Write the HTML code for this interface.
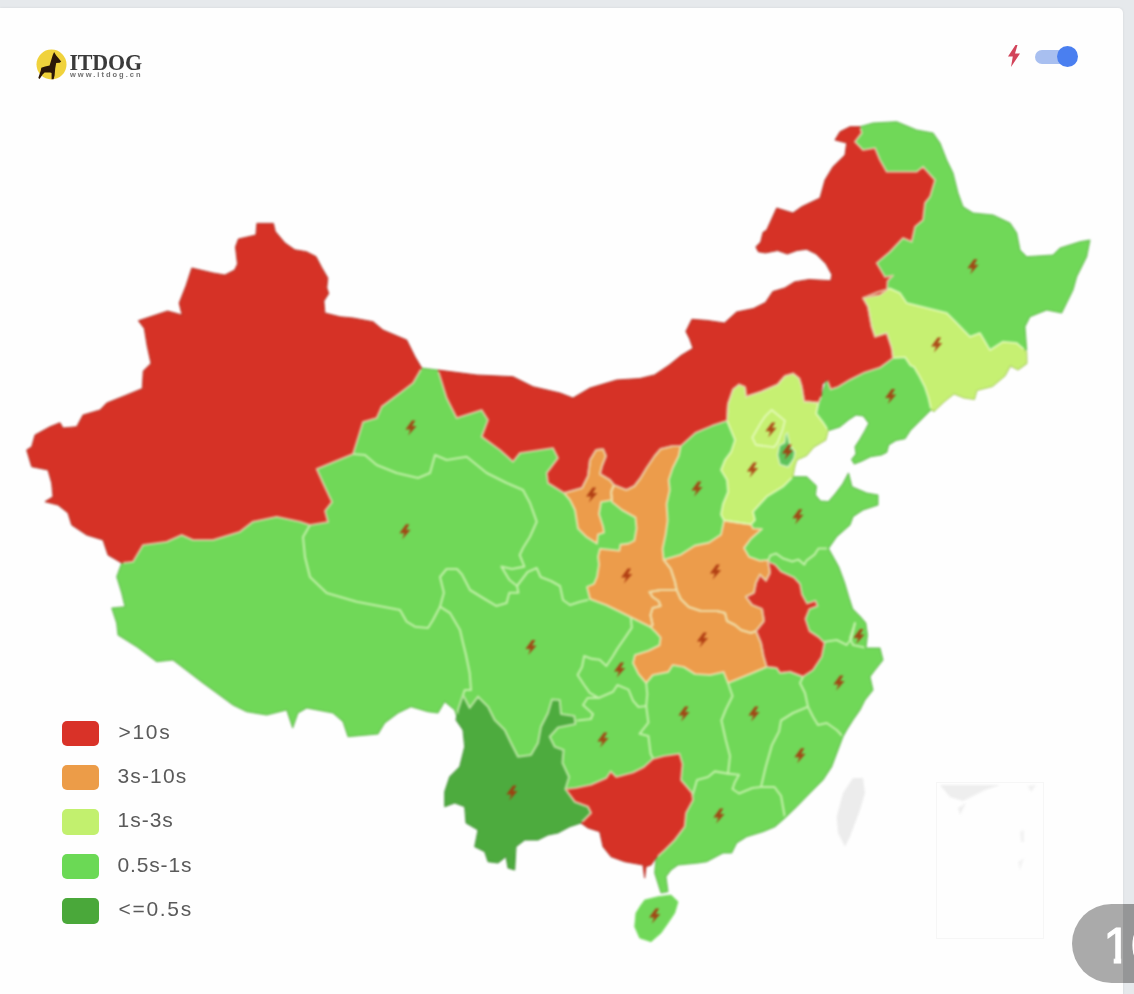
<!DOCTYPE html>
<html lang="zh"><head><meta charset="utf-8"><title>ITDOG</title>
<style>
html,body{margin:0;padding:0}
body{width:1134px;height:994px;overflow:hidden;background:#e6e9ec;position:relative;font-family:"Liberation Sans","Noto Sans CJK SC",sans-serif}
.card{position:absolute;left:0;top:8px;width:1123px;height:1000px;background:#fefefe;border-radius:0 5px 0 0;box-shadow:0 0 3px rgba(0,0,0,.08)}
.map{position:absolute;left:0;top:0;filter:blur(.8px)}
.logo{position:absolute;left:36px;top:48.7px;width:31px;height:31px;overflow:visible;filter:blur(.5px)}
.brand{position:absolute;left:69.5px;top:48px;transform:scaleY(1.09);transform-origin:0 0;font-family:"Liberation Serif",serif;font-weight:bold;font-size:22px;line-height:26px;color:#3a3a3a;letter-spacing:-.2px;filter:blur(.5px);white-space:nowrap}
.sub{position:absolute;left:70px;top:70.5px;font-size:7.5px;line-height:8px;letter-spacing:2.0px;color:#707070;font-weight:bold;filter:blur(.5px);white-space:nowrap}
.bolt{position:absolute;left:1006px;top:44px;width:16px;height:24px;filter:blur(.5px)}
.track{position:absolute;left:1035px;top:50px;width:40px;height:14px;border-radius:7px;background:#a8bff0;filter:blur(.4px)}
.knob{position:absolute;left:1057px;top:45.7px;width:21.4px;height:21.4px;border-radius:50%;background:#4a7ff0;filter:blur(.4px)}
.lg{position:absolute;left:61.5px;width:37px;height:25.5px;border-radius:5px;filter:blur(.5px)}
.lt{position:absolute;left:117.5px;font-size:21px;line-height:24px;color:#5a5a5a;letter-spacing:1px;white-space:nowrap;filter:blur(.45px)}
.badge{position:absolute;left:1071.5px;top:904px;width:200px;height:79px;border-radius:40px;background:#aaaaaa;filter:blur(.5px)}
.bshade{position:absolute;left:1123px;top:904px;width:20px;height:79px;background:rgba(90,92,96,.26)}
.btxt{position:absolute;left:1103.2px;top:917px;font-size:50px;line-height:58px;color:#fff;white-space:nowrap;-webkit-text-stroke:1px #fff;clip-path:polygon(0 0,200px 0,200px 80px,27.2px 80px,27.2px 39.5px,18px 39.5px,18px 80px,10.5px 80px,10.5px 39.5px,0 39.5px)}
.bwrap{position:absolute;left:0;top:0;width:1134px;height:994px;filter:blur(.6px)}
.inset{position:absolute;left:936px;top:782px;width:108px;height:157px;border:1px solid #f6f6f6;box-sizing:border-box}
</style></head><body>
<div class="card"></div>
<svg class="map" width="1134" height="994" viewBox="0 0 1134 994">
<g>
<polygon points="853.0,778.0 863.0,778.0 865.0,793.0 860.0,810.0 850.0,836.7 845.0,846.7 838.0,833.0 836.7,816.7 843.0,793.0" fill="#ececec"/>
<polygon points="421.7,368.0 438.0,370.0 470.0,395.0 520.0,420.0 600.0,420.0 700.0,405.0 760.0,440.0 790.0,470.0 793.0,476.7 806.7,476.7 816.5,486.0 815.5,495.0 820.5,501.0 828.5,501.5 835.0,494.0 842.6,484.0 848.5,473.0 852.0,486.7 866.7,493.0 878.0,495.0 878.0,505.0 863.0,510.0 853.0,516.7 850.0,525.0 836.7,536.7 828.5,548.5 838.6,566.6 844.6,582.7 848.7,596.8 852.7,608.9 860.7,617.0 865.8,623.0 867.5,635.0 866.0,648.0 880.0,648.0 883.0,660.0 875.0,670.0 870.0,676.7 873.0,690.0 865.0,700.0 860.0,710.0 853.0,720.0 846.7,730.0 843.0,736.7 838.0,750.0 831.7,766.7 823.0,780.0 810.0,793.0 796.7,806.7 785.0,818.0 775.0,826.7 763.0,831.7 746.7,836.7 736.7,843.0 731.7,853.0 723.0,853.0 706.7,861.7 698.0,863.0 678.0,865.0 671.0,870.0 666.0,876.7 668.0,891.7 661.0,893.0 654.7,873.0 656.0,858.0 640.0,830.0 610.0,810.0 540.0,800.0 480.0,760.0 458.0,720.0 454.7,710.0 444.7,701.7 438.0,713.0 428.0,711.7 411.0,706.7 398.0,713.0 384.7,723.0 378.0,734.0 348.0,736.7 343.0,721.7 333.0,713.0 306.7,708.0 298.0,713.0 292.7,728.0 286.7,710.0 266.7,715.0 246.7,711.7 233.0,705.0 216.7,693.0 203.0,683.0 190.0,673.0 173.0,660.0 156.7,661.7 136.7,646.7 118.0,635.0 116.7,623.0 111.7,608.0 125.0,606.7 121.7,593.0 116.7,576.7 121.7,563.0 140.0,540.0 240.0,510.0 300.0,500.0 320.0,460.0 360.0,420.0 400.0,390.0" fill="#70d858" stroke="#70d858" stroke-width="0.8" stroke-linejoin="round"/>
<polygon points="860.0,126.7 873.0,123.0 896.7,121.7 916.7,130.0 933.0,133.0 940.0,143.0 946.7,160.0 953.0,173.0 958.0,193.0 963.0,206.7 973.0,213.0 993.0,215.0 1010.0,223.0 1016.7,233.0 1020.0,250.0 1026.7,256.7 1053.0,255.0 1060.0,248.0 1080.0,241.7 1090.0,240.0 1086.7,256.7 1076.7,276.7 1073.0,290.0 1061.7,313.0 1046.7,310.0 1030.0,316.7 1025.0,326.7 1026.7,350.0 980.0,360.0 950.0,380.0 934.0,411.5 931.2,409.7 924.9,416.0 917.6,423.3 910.4,430.5 905.0,438.7 895.9,440.5 888.7,445.0 886.8,452.3 881.4,455.0 870.5,456.8 861.5,461.3 854.3,464.0 851.5,459.5 856.0,454.0 855.0,446.8 859.7,439.6 865.0,430.5 868.7,423.3 863.3,416.0 856.0,415.0 848.8,419.7 839.8,427.0 828.9,430.5 815.0,415.0 830.0,370.0 860.0,340.0 850.0,250.0 890.0,200.0 865.0,165.0 850.0,140.0" fill="#70d858" stroke="#70d858" stroke-width="0.8" stroke-linejoin="round"/>
<polygon points="644.7,900.0 658.0,896.7 671.0,895.0 678.0,901.7 674.7,913.0 668.0,923.0 661.0,933.0 651.0,941.7 639.7,938.0 634.7,926.7 636.0,913.0 641.0,905.0" fill="#70d858" stroke="#70d858" stroke-width="0.8" stroke-linejoin="round"/>
<polygon points="458.0,710.0 463.0,695.0 469.7,708.0 478.0,696.7 488.0,706.7 494.7,720.0 504.7,730.0 511.0,743.0 518.0,756.7 531.0,755.0 538.0,743.0 541.0,726.7 548.0,713.0 552.0,699.5 559.7,700.0 561.0,714.0 574.3,716.0 575.4,724.0 558.0,727.5 549.7,736.7 554.7,746.7 563.5,750.0 562.5,763.0 569.0,777.0 565.4,789.0 574.7,801.7 588.0,806.7 591.0,813.0 581.0,823.0 569.7,826.7 558.0,833.0 548.0,835.0 538.0,840.0 524.7,840.0 516.0,846.7 514.7,870.0 508.0,868.0 506.0,856.7 498.0,863.0 488.0,861.7 484.7,851.7 474.7,846.7 478.0,830.0 466.0,823.0 464.7,806.7 454.7,803.0 444.7,806.7 444.7,791.7 449.7,776.7 459.7,766.7 464.7,746.7 463.0,730.0 456.0,720.0" fill="#4dab3e" stroke="#4dab3e" stroke-width="0.8" stroke-linejoin="round"/>
<polygon points="565.4,789.0 575.4,788.0 590.9,784.7 606.4,778.0 610.8,771.4 616.3,777.0 633.0,772.5 644.0,767.0 652.8,759.0 663.9,756.0 679.4,753.7 682.5,764.0 681.0,780.0 687.0,787.0 692.0,793.0 693.0,800.0 686.0,813.0 684.7,826.7 674.7,840.0 664.7,850.0 656.0,858.0 651.0,865.0 646.0,866.7 644.7,878.0 643.0,865.0 624.7,861.7 611.0,856.7 603.0,846.7 599.7,831.7 588.0,828.0 581.0,823.0 591.0,813.0 588.0,806.7 574.7,801.7" fill="#d63226" stroke="#d63226" stroke-width="0.8" stroke-linejoin="round"/>
<polygon points="676.7,590.0 680.7,599.0 688.8,607.0 700.8,611.0 716.9,611.0 725.0,613.0 727.0,621.0 735.0,625.0 741.0,630.0 751.0,633.0 756.0,631.0 761.0,643.0 763.5,656.0 766.7,667.0 752.4,673.0 739.0,678.5 728.0,683.0 723.6,671.9 710.0,675.0 694.9,674.0 683.8,667.0 672.7,665.0 668.3,671.9 652.8,675.0 646.2,683.0 638.5,674.0 633.0,663.0 635.0,655.0 648.4,650.8 659.5,645.3 660.6,637.6 656.6,633.0 650.5,627.0 652.6,625.0 650.5,615.0 652.6,608.0 660.6,606.0 658.6,601.0 652.6,597.0 649.5,592.0 660.6,590.0" fill="#ec9c4b" stroke="#ec9c4b" stroke-width="0.8" stroke-linejoin="round"/>
<polygon points="663.6,559.7 680.7,554.7 694.8,545.6 708.9,542.6 721.0,534.6 724.0,520.5 737.0,522.5 751.0,524.5 753.0,528.5 762.0,529.0 751.0,538.6 744.0,548.0 749.0,556.7 760.0,560.7 768.0,560.0 770.0,572.7 766.0,580.7 760.0,574.7 756.0,582.7 754.0,592.8 746.0,596.8 752.0,604.9 762.0,608.9 764.0,621.0 756.0,631.0 751.0,633.0 741.0,630.0 735.0,625.0 727.0,621.0 725.0,613.0 716.9,611.0 700.8,611.0 688.8,607.0 680.7,599.0 676.7,590.0 674.7,580.8 670.7,568.8" fill="#ec9c4b" stroke="#ec9c4b" stroke-width="0.8" stroke-linejoin="round"/>
<polygon points="614.0,485.0 626.4,490.0 634.4,486.0 640.5,478.0 646.5,468.0 654.6,456.0 660.6,449.0 672.7,446.0 680.7,446.0 678.7,456.0 672.7,468.0 668.7,480.0 669.7,490.0 666.6,504.0 667.6,520.5 665.6,534.6 662.6,548.7 663.6,559.7 670.7,568.8 674.7,580.8 676.7,590.0 660.6,590.0 649.5,592.0 652.6,597.0 658.6,601.0 660.6,606.0 652.6,608.0 650.5,615.0 652.6,625.0 650.5,627.0 640.5,622.0 630.4,617.0 618.4,611.0 606.0,605.0 590.0,599.0 587.0,586.9 594.0,583.9 597.0,576.8 599.0,564.7 598.0,556.7 600.0,548.7 610.0,549.7 619.4,550.7 620.4,544.6 628.4,543.6 634.4,540.6 636.5,528.5 635.5,517.5 622.0,510.0 612.0,502.0 612.0,500.0 611.0,492.0" fill="#ec9c4b" stroke="#ec9c4b" stroke-width="0.8" stroke-linejoin="round"/>
<polygon points="564.0,493.0 582.0,488.0 588.0,476.0 590.0,460.0 596.0,450.0 603.0,449.0 606.0,456.0 602.0,466.0 600.0,474.0 610.0,480.0 614.0,485.0 611.0,492.0 612.0,500.0 601.0,502.0 599.0,514.0 603.0,526.5 604.0,532.6 598.0,534.6 597.0,543.6 586.0,536.6 578.0,528.5 575.0,510.0 570.0,500.0" fill="#ec9c4b" stroke="#ec9c4b" stroke-width="0.8" stroke-linejoin="round"/>
<polygon points="768.0,561.6 775.0,564.6 781.0,571.5 794.0,577.5 800.0,584.0 802.0,594.5 807.0,603.5 815.5,600.8 817.5,605.9 809.4,608.9 805.4,619.0 809.4,631.0 818.5,637.0 824.5,643.0 821.7,656.7 813.0,670.0 803.0,676.7 790.0,671.7 780.0,673.0 776.7,668.0 766.7,666.7 763.5,656.0 761.0,643.0 756.0,631.0 764.0,621.0 762.0,608.9 752.0,604.9 746.0,596.8 754.0,592.8 756.0,582.7 760.0,574.7 766.0,580.7 770.0,572.7" fill="#d63226" stroke="#d63226" stroke-width="0.8" stroke-linejoin="round"/>
<polygon points="726.9,420.7 728.0,403.8 733.0,389.3 739.0,384.5 745.0,386.9 746.2,396.6 760.7,391.8 777.6,384.5 784.9,376.0 793.3,373.6 799.3,378.5 801.8,386.9 804.2,401.4 818.6,402.6 816.2,413.5 823.5,423.0 828.3,430.4 825.9,440.0 813.8,447.3 806.6,455.7 797.0,460.0 795.0,466.0 793.0,476.7 783.0,486.7 766.7,496.7 753.0,511.7 755.0,520.0 751.0,524.5 737.0,522.5 724.0,520.5 721.0,514.5 723.0,504.0 728.0,492.0 727.0,480.0 721.0,470.0 725.0,460.0 731.0,452.0 735.0,440.0" fill="#c6f072" stroke="#c6f072" stroke-width="0.8" stroke-linejoin="round"/>
<polygon points="863.0,298.0 878.0,292.0 890.0,288.5 900.0,293.0 906.7,303.0 926.7,308.0 946.7,313.0 956.7,323.0 970.0,336.7 980.0,333.0 990.0,350.0 1003.0,341.7 1016.7,343.0 1026.7,351.7 1027.0,363.5 1018.0,370.0 1010.5,366.0 1005.0,376.0 992.5,386.5 977.0,390.5 974.5,399.5 964.0,398.0 954.0,394.0 944.0,402.0 934.0,411.5 931.2,409.7 928.5,398.0 924.9,387.0 919.4,376.2 914.0,367.0 910.4,365.4 905.0,357.2 893.0,358.0 891.7,348.0 886.7,333.0 875.0,336.7 871.7,326.7 868.0,306.7" fill="#c6f072" stroke="#c6f072" stroke-width="0.8" stroke-linejoin="round"/>
<polygon points="256.9,223.4 273.4,223.4 275.3,231.4 285.0,243.0 294.8,249.8 306.4,251.7 316.0,256.6 322.0,268.0 327.8,278.0 326.8,287.7 328.7,293.5 323.9,301.0 324.9,313.0 340.0,316.8 353.0,318.0 373.0,321.7 383.0,330.0 406.7,340.0 415.0,356.7 421.7,368.0 413.0,383.0 400.0,393.0 381.7,406.7 376.7,418.0 363.0,422.0 353.0,454.0 316.7,469.0 323.0,483.0 332.0,502.0 325.0,511.0 328.0,522.0 310.0,525.0 300.0,521.7 276.7,516.7 253.0,521.7 240.0,531.7 213.0,540.0 193.0,540.0 181.7,535.0 166.7,541.7 143.0,545.0 133.0,561.7 121.7,563.0 108.0,555.0 103.0,540.0 86.7,535.0 71.7,525.0 68.0,513.0 58.0,505.0 45.0,501.7 53.0,496.7 51.7,483.0 48.0,470.0 31.7,466.7 26.7,450.0 31.7,446.7 35.0,435.0 50.0,426.7 60.0,422.7 63.0,428.0 76.7,426.7 83.0,415.0 100.0,410.0 106.7,403.0 126.7,395.0 142.3,388.6 143.3,371.0 151.0,363.4 147.2,345.9 144.3,328.4 138.4,320.7 167.6,311.0 182.0,314.9 179.2,303.0 186.0,285.7 191.8,268.0 213.2,273.0 224.9,275.0 234.6,270.0 237.5,264.0 235.5,246.9 238.4,239.0 255.9,235.0" fill="#d63226" stroke="#d63226" stroke-width="0.8" stroke-linejoin="round"/>
<polygon points="438.0,370.0 476.7,375.0 513.0,376.7 533.0,386.7 560.0,393.0 573.0,398.0 590.0,388.0 616.7,380.0 640.0,378.5 654.5,374.9 669.0,365.2 681.0,355.5 693.0,348.3 689.5,338.6 685.9,331.4 691.9,319.3 707.6,320.5 724.5,323.0 736.6,312.0 753.5,308.5 765.5,302.4 772.8,291.6 784.9,287.9 794.5,281.9 809.0,279.5 830.7,280.7 831.9,274.7 825.9,263.8 816.2,254.0 806.6,249.3 796.9,250.5 787.3,254.0 777.6,250.5 765.5,252.9 758.3,251.7 755.9,246.9 760.7,242.0 763.0,232.4 766.7,230.0 776.7,208.0 793.0,213.0 801.7,206.7 820.0,198.0 825.0,180.0 833.0,166.7 845.0,155.0 846.7,143.0 835.0,140.0 840.0,131.7 850.0,126.7 860.0,126.7 861.7,133.0 855.0,141.7 863.0,150.0 875.0,148.0 880.0,160.0 886.7,171.7 916.7,171.7 923.0,166.7 935.0,180.0 930.0,196.7 925.0,203.0 923.0,220.0 915.0,226.7 911.7,241.7 903.0,238.0 890.0,251.7 876.7,263.0 885.0,277.0 893.0,275.5 887.5,281.0 887.0,290.0 880.0,295.0 863.0,298.0 868.0,306.7 871.7,326.7 875.0,336.7 886.7,333.0 891.7,348.0 893.0,358.0 880.0,367.6 864.5,372.4 850.0,379.7 838.0,386.9 830.7,389.3 827.0,379.7 822.3,384.5 821.1,396.6 818.6,402.6 804.2,401.4 801.8,386.9 799.3,378.5 793.3,373.6 784.9,376.0 777.6,384.5 760.7,391.8 746.2,396.6 745.0,386.9 739.0,384.5 733.0,389.3 728.0,403.8 726.9,420.7 712.4,425.6 695.5,432.8 684.7,442.5 680.7,446.0 672.7,446.0 660.6,449.0 654.6,456.0 646.5,468.0 640.5,478.0 634.4,486.0 626.4,490.0 614.0,485.0 610.0,480.0 600.0,474.0 602.0,466.0 606.0,456.0 603.0,449.0 596.0,450.0 590.0,460.0 588.0,476.0 582.0,488.0 564.0,493.0 548.0,483.0 546.7,473.0 558.0,458.0 553.0,448.0 520.0,453.0 513.0,461.7 500.0,450.0 481.7,436.7 488.0,420.0 481.7,410.0 456.7,418.0 446.7,398.0" fill="#d63226" stroke="#d63226" stroke-width="0.8" stroke-linejoin="round"/>
<polygon points="771.6,409.9 784.9,420.7 782.4,430.4 777.6,442.5 774.0,447.3 755.9,444.9 752.3,437.6 760.7,423.0 765.5,415.9" fill="#c6f072" stroke="#c6f072" stroke-width="0.8" stroke-linejoin="round"/>
<polygon points="787.3,433.0 789.7,444.9 795.0,452.0 794.0,458.0 791.0,463.0 788.0,467.0 780.0,464.5 777.6,455.0 779.5,445.5 784.9,442.5 785.5,435.0" fill="#5cc25a" stroke="#5cc25a" stroke-width="0.8" stroke-linejoin="round"/>
<clipPath id="cin"><path clip-rule="evenodd" d="M644.6 865.7 L650.1 863.7 L656.3 854.9 L657.7 855.4 L656.2 872.8 L662.0 891.3 L666.3 890.5 L664.4 876.3 L669.9 868.9 L677.5 863.5 L697.8 861.5 L706.2 860.3 L722.6 851.5 L730.8 851.5 L735.5 842.0 L746.1 835.3 L762.5 830.3 L774.2 825.4 L784.0 816.9 L795.6 805.6 L821.8 779.1 L830.4 766.0 L841.6 736.1 L845.4 729.2 L851.8 719.2 L858.7 709.2 L863.7 699.2 L871.4 689.6 L868.4 676.3 L881.4 659.7 L878.8 649.5 L864.3 649.5 L866.0 635.0 L864.4 623.6 L859.6 618.0 L851.4 609.7 L843.2 583.2 L837.2 567.2 L826.7 548.4 L835.6 535.7 L848.7 524.1 L851.8 515.7 L862.3 508.6 L876.5 503.9 L876.5 496.3 L866.3 494.4 L850.7 487.8 L848.0 477.1 L843.9 484.8 L836.2 494.9 L829.1 503.0 L819.8 502.5 L813.9 495.5 L814.9 486.6 L806.1 478.2 L791.2 478.2 L793.5 465.6 L795.8 458.9 L805.7 454.5 L812.8 446.1 L824.6 439.0 L827.6 427.1 L829.4 428.8 L839.1 425.7 L847.9 418.5 L855.6 413.4 L864.1 414.6 L870.5 423.2 L861.0 440.4 L856.6 447.1 L857.6 454.4 L853.3 459.6 L854.9 462.2 L860.9 459.9 L870.0 455.4 L880.9 453.6 L885.5 451.3 L887.4 444.0 L895.3 439.1 L904.1 437.4 L909.2 429.5 L931.0 407.8 L933.8 409.6 L943.0 400.9 L953.7 392.3 L964.4 396.5 L973.4 397.8 L975.8 389.3 L991.8 385.1 L1003.8 375.0 L1009.9 364.0 L1017.9 368.2 L1025.5 362.7 L1025.2 352.4 L1022.2 349.8 L1022.3 349.4 L1025.1 348.8 L1023.5 326.4 L1028.9 315.5 L1046.6 308.4 L1060.9 311.3 L1071.6 289.5 L1075.3 276.2 L1085.3 256.2 L1088.1 241.8 L1080.4 243.2 L1060.8 249.3 L1053.7 256.5 L1026.1 258.2 L1018.6 250.7 L1015.3 233.6 L1009.0 224.2 L992.6 216.5 L972.5 214.5 L961.8 207.7 L956.6 193.4 L951.6 173.5 L945.3 160.6 L938.7 143.7 L932.1 134.4 L916.3 131.4 L896.4 123.2 L873.2 124.5 L860.2 128.2 L850.4 128.2 L841.1 132.8 L837.3 139.0 L848.4 141.9 L846.4 155.7 L834.2 167.6 L826.4 180.6 L821.3 199.1 L802.5 208.0 L793.3 214.7 L777.5 209.8 L767.9 231.0 L764.3 233.3 L762.1 242.8 L757.7 247.2 L759.3 250.3 L765.5 251.4 L777.7 248.9 L787.3 252.4 L796.5 249.0 L806.9 247.8 L817.1 252.8 L827.1 262.9 L833.5 274.5 L831.9 282.3 L809.1 281.0 L795.0 283.3 L785.5 289.3 L773.7 292.9 L766.5 303.6 L754.0 309.9 L737.3 313.4 L725.0 324.6 L707.4 322.0 L692.8 320.9 L687.6 331.4 L690.9 338.0 L694.8 349.0 L681.9 356.7 L669.9 366.4 L655.1 376.3 L640.2 380.0 L617.0 381.5 L590.6 389.4 L573.1 399.7 L559.6 394.4 L532.5 388.1 L512.6 378.2 L476.6 376.5 L420.8 369.4 L413.7 357.4 L405.6 341.2 L382.2 331.3 L372.3 323.1 L352.8 319.5 L339.7 318.3 L323.5 314.2 L322.4 300.6 L327.1 293.3 L325.3 287.9 L326.3 278.3 L314.9 257.7 L305.9 253.1 L294.2 251.2 L284.0 244.1 L273.9 232.1 L272.2 224.9 L258.3 224.9 L257.3 236.2 L239.5 240.3 L237.0 247.1 L239.0 264.3 L235.7 271.1 L225.1 276.6 L212.9 274.5 L192.8 269.8 L187.4 286.2 L180.8 303.1 L184.0 317.0 L167.6 312.6 L140.9 321.5 L145.7 327.8 L148.7 345.6 L152.6 363.9 L144.8 371.7 L143.7 389.6 L107.6 404.3 L100.8 411.3 L84.0 416.3 L77.6 428.1 L62.2 429.6 L59.3 424.6 L50.6 428.1 L36.3 436.0 L33.0 447.6 L28.5 450.6 L32.9 465.4 L49.2 468.7 L53.2 482.7 L54.6 497.5 L48.8 501.1 L58.7 503.6 L69.3 512.1 L73.0 524.0 L87.3 533.6 L104.2 538.8 L109.2 554.0 L123.5 562.3 L118.3 576.7 L123.1 592.6 L126.9 608.0 L113.7 609.3 L118.2 622.7 L119.4 634.1 L137.5 645.5 L157.1 660.1 L173.4 658.4 L203.9 681.8 L233.8 703.7 L247.2 710.3 L266.6 713.5 L287.7 708.2 L292.7 723.4 L296.8 712.0 L306.4 706.4 L333.7 711.6 L344.3 720.8 L349.0 735.1 L377.1 732.6 L383.6 722.0 L397.2 711.7 L410.9 705.1 L428.3 710.2 L437.2 711.4 L444.3 699.4 L456.0 709.1 L458.3 716.1 L457.6 719.7 L464.5 729.5 L466.2 746.8 L461.1 767.5 L451.0 777.5 L446.2 791.9 L446.2 804.5 L454.7 801.4 L466.1 805.6 L467.4 822.1 L479.7 829.2 L476.4 845.9 L485.9 850.6 L489.1 860.3 L497.6 861.4 L507.0 854.0 L509.3 866.8 L513.3 868.0 L514.5 845.9 L524.2 838.5 L537.6 838.5 L547.5 833.6 L557.5 831.6 L569.1 825.3 L581.3 821.3 L588.7 826.6 L601.0 830.5 L604.4 846.0 L611.9 855.4 L625.1 860.2 L644.3 863.7 L644.6 865.7 Z M822.6 397.0 L819.6 396.3 L820.9 383.8 L827.5 377.1 L828.9 377.9 L822.6 397.0 Z"/></clipPath>
<path d="M644.7 878.0 L646.0 866.7 L651.0 865.0 L656.0 858.0 L654.7 873.0 L661.0 893.0 L668.0 891.7 L666.0 876.7 L671.0 870.0 L678.0 865.0 L698.0 863.0 L706.7 861.7 L723.0 853.0 L731.7 853.0 L736.7 843.0 L746.7 836.7 L763.0 831.7 L775.0 826.7 L785.0 818.0 L796.7 806.7 L823.0 780.0 L831.7 766.7 L843.0 736.7 L846.7 730.0 L853.0 720.0 L860.0 710.0 L865.0 700.0 L873.0 690.0 L870.0 676.7 L883.0 660.0 L880.0 648.0 L866.0 648.0 L867.5 635.0 L865.8 623.0 L860.7 617.0 L852.7 608.9 L844.6 582.7 L838.6 566.6 L828.5 548.5 L836.7 536.7 L850.0 525.0 L853.0 516.7 L863.0 510.0 L878.0 505.0 L878.0 495.0 L866.7 493.0 L852.0 486.7 L848.5 473.0 L842.6 484.0 L835.0 494.0 L828.5 501.5 L820.5 501.0 L815.5 495.0 L816.5 486.0 L806.7 476.7 L793.0 476.7 L795.0 466.0 L797.0 460.0 L806.6 455.7 L813.8 447.3 L825.9 440.0 L828.4 430.0 L828.9 430.5 L839.8 427.0 L848.8 419.7 L856.0 415.0 L863.3 416.0 L868.7 423.3 L859.7 439.6 L855.0 446.8 L856.0 454.0 L851.5 459.5 L854.3 464.0 L861.5 461.3 L870.5 456.8 L881.4 455.0 L886.8 452.3 L888.7 445.0 L895.9 440.5 L905.0 438.7 L910.4 430.5 L931.2 409.7 L934.0 411.5 L944.0 402.0 L954.0 394.0 L964.0 398.0 L974.5 399.5 L977.0 390.5 L992.5 386.5 L1005.0 376.0 L1010.5 366.0 L1018.0 370.0 L1027.0 363.5 L1026.7 351.7 L1025.1 350.3 L1026.7 350.0 L1025.0 326.7 L1030.0 316.7 L1046.7 310.0 L1061.7 313.0 L1073.0 290.0 L1076.7 276.7 L1086.7 256.7 L1090.0 240.0 L1080.0 241.7 L1060.0 248.0 L1053.0 255.0 L1026.7 256.7 L1020.0 250.0 L1016.7 233.0 L1010.0 223.0 L993.0 215.0 L973.0 213.0 L963.0 206.7 L958.0 193.0 L953.0 173.0 L946.7 160.0 L940.0 143.0 L933.0 133.0 L916.7 130.0 L896.7 121.7 L873.0 123.0 L860.0 126.7 L850.0 126.7 L840.0 131.7 L835.0 140.0 L846.7 143.0 L845.0 155.0 L833.0 166.7 L825.0 180.0 L820.0 198.0 L801.7 206.7 L793.0 213.0 L776.7 208.0 L766.7 230.0 L763.0 232.4 L760.7 242.0 L755.9 246.9 L758.3 251.7 L765.5 252.9 L777.6 250.5 L787.3 254.0 L796.9 250.5 L806.6 249.3 L816.2 254.0 L825.9 263.8 L831.9 274.7 L830.7 280.7 L809.0 279.5 L794.5 281.9 L784.9 287.9 L772.8 291.6 L765.5 302.4 L753.5 308.5 L736.6 312.0 L724.5 323.0 L707.6 320.5 L691.9 319.3 L685.9 331.4 L689.5 338.6 L693.0 348.3 L681.0 355.5 L669.0 365.2 L654.5 374.9 L640.0 378.5 L616.7 380.0 L590.0 388.0 L573.0 398.0 L560.0 393.0 L533.0 386.7 L513.0 376.7 L476.7 375.0 L421.7 368.0 L415.0 356.7 L406.7 340.0 L383.0 330.0 L373.0 321.7 L353.0 318.0 L340.0 316.8 L324.9 313.0 L323.9 301.0 L328.7 293.5 L326.8 287.7 L327.8 278.0 L322.0 268.0 L316.0 256.6 L306.4 251.7 L294.8 249.8 L285.0 243.0 L275.3 231.4 L273.4 223.4 L256.9 223.4 L255.9 235.0 L238.4 239.0 L235.5 246.9 L237.5 264.0 L234.6 270.0 L224.9 275.0 L213.2 273.0 L191.8 268.0 L186.0 285.7 L179.2 303.0 L182.0 314.9 L167.6 311.0 L138.4 320.7 L144.3 328.4 L147.2 345.9 L151.0 363.4 L143.3 371.0 L142.3 388.6 L106.7 403.0 L100.0 410.0 L83.0 415.0 L76.7 426.7 L63.0 428.0 L60.0 422.7 L50.0 426.7 L35.0 435.0 L31.7 446.7 L26.7 450.0 L31.7 466.7 L48.0 470.0 L51.7 483.0 L53.0 496.7 L45.0 501.7 L58.0 505.0 L68.0 513.0 L71.7 525.0 L86.7 535.0 L103.0 540.0 L108.0 555.0 L121.7 563.0 L116.7 576.7 L121.7 593.0 L125.0 606.7 L111.7 608.0 L116.7 623.0 L118.0 635.0 L136.7 646.7 L156.7 661.7 L173.0 660.0 L203.0 683.0 L233.0 705.0 L246.7 711.7 L266.7 715.0 L286.7 710.0 L292.7 728.0 L298.0 713.0 L306.7 708.0 L333.0 713.0 L343.0 721.7 L348.0 736.7 L378.0 734.0 L384.7 723.0 L398.0 713.0 L411.0 706.7 L428.0 711.7 L438.0 713.0 L444.7 701.7 L454.7 710.0 L456.8 716.2 L456.0 720.0 L463.0 730.0 L464.7 746.7 L459.7 766.7 L449.7 776.7 L444.7 791.7 L444.7 806.7 L454.7 803.0 L464.7 806.7 L466.0 823.0 L478.0 830.0 L474.7 846.7 L484.7 851.7 L488.0 861.7 L498.0 863.0 L506.0 856.7 L508.0 868.0 L514.7 870.0 L516.0 846.7 L524.7 840.0 L538.0 840.0 L548.0 835.0 L558.0 833.0 L569.7 826.7 L581.0 823.0 L588.0 828.0 L599.7 831.7 L603.0 846.7 L611.0 856.7 L624.7 861.7 L643.0 865.0 L644.7 878.0 Z M821.6 395.2 L821.2 395.1 L822.3 384.5 L826.6 380.1 L821.6 395.2 Z" fill="none" stroke="#000" stroke-opacity="0.10" stroke-width="1.6" stroke-linejoin="round"/>
<g clip-path="url(#cin)">
<g opacity="0.62" fill="none" stroke="#f3ffd8" stroke-width="2.1" stroke-linejoin="round" stroke-linecap="round">
<polygon points="256.9,223.4 273.4,223.4 275.3,231.4 285.0,243.0 294.8,249.8 306.4,251.7 316.0,256.6 322.0,268.0 327.8,278.0 326.8,287.7 328.7,293.5 323.9,301.0 324.9,313.0 340.0,316.8 353.0,318.0 373.0,321.7 383.0,330.0 406.7,340.0 415.0,356.7 421.7,368.0 413.0,383.0 400.0,393.0 381.7,406.7 376.7,418.0 363.0,422.0 353.0,454.0 316.7,469.0 323.0,483.0 332.0,502.0 325.0,511.0 328.0,522.0 310.0,525.0 300.0,521.7 276.7,516.7 253.0,521.7 240.0,531.7 213.0,540.0 193.0,540.0 181.7,535.0 166.7,541.7 143.0,545.0 133.0,561.7 121.7,563.0 108.0,555.0 103.0,540.0 86.7,535.0 71.7,525.0 68.0,513.0 58.0,505.0 45.0,501.7 53.0,496.7 51.7,483.0 48.0,470.0 31.7,466.7 26.7,450.0 31.7,446.7 35.0,435.0 50.0,426.7 60.0,422.7 63.0,428.0 76.7,426.7 83.0,415.0 100.0,410.0 106.7,403.0 126.7,395.0 142.3,388.6 143.3,371.0 151.0,363.4 147.2,345.9 144.3,328.4 138.4,320.7 167.6,311.0 182.0,314.9 179.2,303.0 186.0,285.7 191.8,268.0 213.2,273.0 224.9,275.0 234.6,270.0 237.5,264.0 235.5,246.9 238.4,239.0 255.9,235.0"/>
<polygon points="438.0,370.0 476.7,375.0 513.0,376.7 533.0,386.7 560.0,393.0 573.0,398.0 590.0,388.0 616.7,380.0 640.0,378.5 654.5,374.9 669.0,365.2 681.0,355.5 693.0,348.3 689.5,338.6 685.9,331.4 691.9,319.3 707.6,320.5 724.5,323.0 736.6,312.0 753.5,308.5 765.5,302.4 772.8,291.6 784.9,287.9 794.5,281.9 809.0,279.5 830.7,280.7 831.9,274.7 825.9,263.8 816.2,254.0 806.6,249.3 796.9,250.5 787.3,254.0 777.6,250.5 765.5,252.9 758.3,251.7 755.9,246.9 760.7,242.0 763.0,232.4 766.7,230.0 776.7,208.0 793.0,213.0 801.7,206.7 820.0,198.0 825.0,180.0 833.0,166.7 845.0,155.0 846.7,143.0 835.0,140.0 840.0,131.7 850.0,126.7 860.0,126.7 861.7,133.0 855.0,141.7 863.0,150.0 875.0,148.0 880.0,160.0 886.7,171.7 916.7,171.7 923.0,166.7 935.0,180.0 930.0,196.7 925.0,203.0 923.0,220.0 915.0,226.7 911.7,241.7 903.0,238.0 890.0,251.7 876.7,263.0 885.0,277.0 893.0,275.5 887.5,281.0 887.0,290.0 880.0,295.0 863.0,298.0 868.0,306.7 871.7,326.7 875.0,336.7 886.7,333.0 891.7,348.0 893.0,358.0 880.0,367.6 864.5,372.4 850.0,379.7 838.0,386.9 830.7,389.3 827.0,379.7 822.3,384.5 821.1,396.6 818.6,402.6 804.2,401.4 801.8,386.9 799.3,378.5 793.3,373.6 784.9,376.0 777.6,384.5 760.7,391.8 746.2,396.6 745.0,386.9 739.0,384.5 733.0,389.3 728.0,403.8 726.9,420.7 712.4,425.6 695.5,432.8 684.7,442.5 680.7,446.0 672.7,446.0 660.6,449.0 654.6,456.0 646.5,468.0 640.5,478.0 634.4,486.0 626.4,490.0 614.0,485.0 610.0,480.0 600.0,474.0 602.0,466.0 606.0,456.0 603.0,449.0 596.0,450.0 590.0,460.0 588.0,476.0 582.0,488.0 564.0,493.0 548.0,483.0 546.7,473.0 558.0,458.0 553.0,448.0 520.0,453.0 513.0,461.7 500.0,450.0 481.7,436.7 488.0,420.0 481.7,410.0 456.7,418.0 446.7,398.0"/>
<polygon points="564.0,493.0 582.0,488.0 588.0,476.0 590.0,460.0 596.0,450.0 603.0,449.0 606.0,456.0 602.0,466.0 600.0,474.0 610.0,480.0 614.0,485.0 611.0,492.0 612.0,500.0 601.0,502.0 599.0,514.0 603.0,526.5 604.0,532.6 598.0,534.6 597.0,543.6 586.0,536.6 578.0,528.5 575.0,510.0 570.0,500.0"/>
<polygon points="614.0,485.0 626.4,490.0 634.4,486.0 640.5,478.0 646.5,468.0 654.6,456.0 660.6,449.0 672.7,446.0 680.7,446.0 678.7,456.0 672.7,468.0 668.7,480.0 669.7,490.0 666.6,504.0 667.6,520.5 665.6,534.6 662.6,548.7 663.6,559.7 670.7,568.8 674.7,580.8 676.7,590.0 660.6,590.0 649.5,592.0 652.6,597.0 658.6,601.0 660.6,606.0 652.6,608.0 650.5,615.0 652.6,625.0 650.5,627.0 640.5,622.0 630.4,617.0 618.4,611.0 606.0,605.0 590.0,599.0 587.0,586.9 594.0,583.9 597.0,576.8 599.0,564.7 598.0,556.7 600.0,548.7 610.0,549.7 619.4,550.7 620.4,544.6 628.4,543.6 634.4,540.6 636.5,528.5 635.5,517.5 622.0,510.0 612.0,502.0 612.0,500.0 611.0,492.0"/>
<polygon points="663.6,559.7 680.7,554.7 694.8,545.6 708.9,542.6 721.0,534.6 724.0,520.5 737.0,522.5 751.0,524.5 753.0,528.5 762.0,529.0 751.0,538.6 744.0,548.0 749.0,556.7 760.0,560.7 768.0,560.0 770.0,572.7 766.0,580.7 760.0,574.7 756.0,582.7 754.0,592.8 746.0,596.8 752.0,604.9 762.0,608.9 764.0,621.0 756.0,631.0 751.0,633.0 741.0,630.0 735.0,625.0 727.0,621.0 725.0,613.0 716.9,611.0 700.8,611.0 688.8,607.0 680.7,599.0 676.7,590.0 674.7,580.8 670.7,568.8"/>
<polygon points="676.7,590.0 680.7,599.0 688.8,607.0 700.8,611.0 716.9,611.0 725.0,613.0 727.0,621.0 735.0,625.0 741.0,630.0 751.0,633.0 756.0,631.0 761.0,643.0 763.5,656.0 766.7,667.0 752.4,673.0 739.0,678.5 728.0,683.0 723.6,671.9 710.0,675.0 694.9,674.0 683.8,667.0 672.7,665.0 668.3,671.9 652.8,675.0 646.2,683.0 638.5,674.0 633.0,663.0 635.0,655.0 648.4,650.8 659.5,645.3 660.6,637.6 656.6,633.0 650.5,627.0 652.6,625.0 650.5,615.0 652.6,608.0 660.6,606.0 658.6,601.0 652.6,597.0 649.5,592.0 660.6,590.0"/>
<polygon points="768.0,561.6 775.0,564.6 781.0,571.5 794.0,577.5 800.0,584.0 802.0,594.5 807.0,603.5 815.5,600.8 817.5,605.9 809.4,608.9 805.4,619.0 809.4,631.0 818.5,637.0 824.5,643.0 821.7,656.7 813.0,670.0 803.0,676.7 790.0,671.7 780.0,673.0 776.7,668.0 766.7,666.7 763.5,656.0 761.0,643.0 756.0,631.0 764.0,621.0 762.0,608.9 752.0,604.9 746.0,596.8 754.0,592.8 756.0,582.7 760.0,574.7 766.0,580.7 770.0,572.7"/>
<polygon points="565.4,789.0 575.4,788.0 590.9,784.7 606.4,778.0 610.8,771.4 616.3,777.0 633.0,772.5 644.0,767.0 652.8,759.0 663.9,756.0 679.4,753.7 682.5,764.0 681.0,780.0 687.0,787.0 692.0,793.0 693.0,800.0 686.0,813.0 684.7,826.7 674.7,840.0 664.7,850.0 656.0,858.0 651.0,865.0 646.0,866.7 644.7,878.0 643.0,865.0 624.7,861.7 611.0,856.7 603.0,846.7 599.7,831.7 588.0,828.0 581.0,823.0 591.0,813.0 588.0,806.7 574.7,801.7"/>
<polygon points="458.0,710.0 463.0,695.0 469.7,708.0 478.0,696.7 488.0,706.7 494.7,720.0 504.7,730.0 511.0,743.0 518.0,756.7 531.0,755.0 538.0,743.0 541.0,726.7 548.0,713.0 552.0,699.5 559.7,700.0 561.0,714.0 574.3,716.0 575.4,724.0 558.0,727.5 549.7,736.7 554.7,746.7 563.5,750.0 562.5,763.0 569.0,777.0 565.4,789.0 574.7,801.7 588.0,806.7 591.0,813.0 581.0,823.0 569.7,826.7 558.0,833.0 548.0,835.0 538.0,840.0 524.7,840.0 516.0,846.7 514.7,870.0 508.0,868.0 506.0,856.7 498.0,863.0 488.0,861.7 484.7,851.7 474.7,846.7 478.0,830.0 466.0,823.0 464.7,806.7 454.7,803.0 444.7,806.7 444.7,791.7 449.7,776.7 459.7,766.7 464.7,746.7 463.0,730.0 456.0,720.0"/>
<polygon points="726.9,420.7 728.0,403.8 733.0,389.3 739.0,384.5 745.0,386.9 746.2,396.6 760.7,391.8 777.6,384.5 784.9,376.0 793.3,373.6 799.3,378.5 801.8,386.9 804.2,401.4 818.6,402.6 816.2,413.5 823.5,423.0 828.3,430.4 825.9,440.0 813.8,447.3 806.6,455.7 797.0,460.0 795.0,466.0 793.0,476.7 783.0,486.7 766.7,496.7 753.0,511.7 755.0,520.0 751.0,524.5 737.0,522.5 724.0,520.5 721.0,514.5 723.0,504.0 728.0,492.0 727.0,480.0 721.0,470.0 725.0,460.0 731.0,452.0 735.0,440.0"/>
<polygon points="771.6,409.9 784.9,420.7 782.4,430.4 777.6,442.5 774.0,447.3 755.9,444.9 752.3,437.6 760.7,423.0 765.5,415.9"/>
<polygon points="787.3,433.0 789.7,444.9 795.0,452.0 794.0,458.0 791.0,463.0 788.0,467.0 780.0,464.5 777.6,455.0 779.5,445.5 784.9,442.5 785.5,435.0"/>
<polygon points="863.0,298.0 878.0,292.0 890.0,288.5 900.0,293.0 906.7,303.0 926.7,308.0 946.7,313.0 956.7,323.0 970.0,336.7 980.0,333.0 990.0,350.0 1003.0,341.7 1016.7,343.0 1026.7,351.7 1027.0,363.5 1018.0,370.0 1010.5,366.0 1005.0,376.0 992.5,386.5 977.0,390.5 974.5,399.5 964.0,398.0 954.0,394.0 944.0,402.0 934.0,411.5 931.2,409.7 928.5,398.0 924.9,387.0 919.4,376.2 914.0,367.0 910.4,365.4 905.0,357.2 893.0,358.0 891.7,348.0 886.7,333.0 875.0,336.7 871.7,326.7 868.0,306.7"/>
<polyline points="310.0,525.0 303.0,537.0 305.0,557.0 310.0,577.0 326.7,593.0 356.7,601.7 383.0,606.7 400.0,610.0 406.7,621.7 415.0,626.7 428.0,628.0 433.0,620.0 440.0,606.7"/>
<polyline points="440.0,606.7 450.0,613.0 460.0,630.0 463.0,643.0 466.0,655.0 469.7,673.0 471.0,690.0 464.7,690.0 463.0,695.0"/>
<polyline points="440.0,606.7 443.9,592.8 440.0,577.0 446.5,569.0 457.0,569.0 462.0,574.5 470.0,590.0 483.0,598.0 496.2,605.9 506.6,603.0 509.3,592.8 518.4,592.8 517.0,586.0"/>
<polyline points="353.0,454.0 365.0,455.0 376.7,465.0 396.7,473.0 418.0,478.0 430.0,473.0 435.0,455.0 446.7,460.0 466.7,456.7 486.7,473.0 506.7,483.0 523.0,490.0 530.0,503.0 536.7,521.7 530.0,536.7 523.0,548.0 519.7,555.0 524.4,566.6 511.9,569.0 501.4,566.6 509.3,579.7 517.0,586.0"/>
<polyline points="517.0,586.0 527.6,572.0 536.7,568.0 540.6,577.0 551.0,581.0 560.0,586.0 563.0,600.0 570.0,605.0 580.0,601.7 587.5,600.0"/>
<polyline points="630.7,617.6 631.8,627.6 625.0,637.6 617.4,648.6 613.0,656.0 606.4,666.0 599.7,659.7 590.9,658.6 584.2,656.0 582.0,667.0 577.6,675.0 584.2,685.0 589.8,692.9 598.6,698.0"/>
<polyline points="598.6,698.0 613.0,691.8 617.4,685.0 628.5,689.6 633.0,700.6 638.5,707.0 646.2,706.0 647.3,694.0 646.2,683.0"/>
<polyline points="598.6,698.0 587.6,698.0 583.0,705.0 593.0,714.0 590.9,719.0 577.6,720.5"/>
<polyline points="646.2,706.0 648.4,722.7 639.5,733.8 648.4,736.0 650.6,753.7 652.8,758.0"/>
<polyline points="728.0,683.0 732.5,696.0 725.8,709.5 721.4,720.5 725.8,740.0 730.0,756.0 728.0,773.6"/>
<polyline points="692.7,794.7 697.0,780.0 708.0,777.0 714.8,771.4 728.0,773.6 739.0,774.7 734.7,782.5 732.5,789.0 739.0,793.5 752.4,788.0 761.0,787.0"/>
<polyline points="761.0,787.0 765.7,767.0 772.0,744.9 779.0,731.6 781.0,720.5 793.0,713.0 808.0,706.7"/>
<polyline points="761.0,787.0 774.5,787.0 781.0,795.8 785.0,818.0"/>
<polyline points="808.0,706.7 805.0,693.0 800.0,683.0 803.0,676.7"/>
<polyline points="808.0,706.7 813.0,716.7 818.0,725.0 826.7,723.0 836.7,730.0 843.0,736.7"/>
<polyline points="766.7,667.0 776.7,668.0 780.0,673.0 790.0,671.7 803.0,676.7"/>
<polyline points="825.0,641.7 836.7,640.0 846.7,645.0 851.7,638.0 855.0,623.0"/>
<polyline points="855.0,623.0 850.0,638.0 853.0,645.0 866.7,648.0"/>
<polyline points="768.2,560.6 770.2,555.6 776.2,553.6 783.3,558.6 792.3,561.6 798.4,559.6 804.4,564.6 806.4,560.6 814.5,554.6 818.5,548.5 828.5,548.5"/>
</g>
</g>
<g fill="#a8300a" fill-opacity="0.85">
<path d="M1 -7.4 L-5.6 1.5 L-0.7 1.5 L-2.8 7.6 L5.6 -2 L1.1 -2 L4.4 -7.4 Z" transform="translate(411 428)"/>
<path d="M1 -7.4 L-5.6 1.5 L-0.7 1.5 L-2.8 7.6 L5.6 -2 L1.1 -2 L4.4 -7.4 Z" transform="translate(405 531.7)"/>
<path d="M1 -7.4 L-5.6 1.5 L-0.7 1.5 L-2.8 7.6 L5.6 -2 L1.1 -2 L4.4 -7.4 Z" transform="translate(591.7 495)"/>
<path d="M1 -7.4 L-5.6 1.5 L-0.7 1.5 L-2.8 7.6 L5.6 -2 L1.1 -2 L4.4 -7.4 Z" transform="translate(626.7 576)"/>
<path d="M1 -7.4 L-5.6 1.5 L-0.7 1.5 L-2.8 7.6 L5.6 -2 L1.1 -2 L4.4 -7.4 Z" transform="translate(531 647.5)"/>
<path d="M1 -7.4 L-5.6 1.5 L-0.7 1.5 L-2.8 7.6 L5.6 -2 L1.1 -2 L4.4 -7.4 Z" transform="translate(973 266.7)"/>
<path d="M1 -7.4 L-5.6 1.5 L-0.7 1.5 L-2.8 7.6 L5.6 -2 L1.1 -2 L4.4 -7.4 Z" transform="translate(936.7 345)"/>
<path d="M1 -7.4 L-5.6 1.5 L-0.7 1.5 L-2.8 7.6 L5.6 -2 L1.1 -2 L4.4 -7.4 Z" transform="translate(890.7 396.5)"/>
<path d="M1 -7.4 L-5.6 1.5 L-0.7 1.5 L-2.8 7.6 L5.6 -2 L1.1 -2 L4.4 -7.4 Z" transform="translate(771 429.8)"/>
<path d="M1 -7.4 L-5.6 1.5 L-0.7 1.5 L-2.8 7.6 L5.6 -2 L1.1 -2 L4.4 -7.4 Z" transform="translate(787.5 452)"/>
<path d="M1 -7.4 L-5.6 1.5 L-0.7 1.5 L-2.8 7.6 L5.6 -2 L1.1 -2 L4.4 -7.4 Z" transform="translate(752.5 470)"/>
<path d="M1 -7.4 L-5.6 1.5 L-0.7 1.5 L-2.8 7.6 L5.6 -2 L1.1 -2 L4.4 -7.4 Z" transform="translate(697 489)"/>
<path d="M1 -7.4 L-5.6 1.5 L-0.7 1.5 L-2.8 7.6 L5.6 -2 L1.1 -2 L4.4 -7.4 Z" transform="translate(798 516.7)"/>
<path d="M1 -7.4 L-5.6 1.5 L-0.7 1.5 L-2.8 7.6 L5.6 -2 L1.1 -2 L4.4 -7.4 Z" transform="translate(715.5 572)"/>
<path d="M1 -7.4 L-5.6 1.5 L-0.7 1.5 L-2.8 7.6 L5.6 -2 L1.1 -2 L4.4 -7.4 Z" transform="translate(702.5 640)"/>
<path d="M1 -7.4 L-5.6 1.5 L-0.7 1.5 L-2.8 7.6 L5.6 -2 L1.1 -2 L4.4 -7.4 Z" transform="translate(859 636.5)"/>
<path d="M1 -7.4 L-5.6 1.5 L-0.7 1.5 L-2.8 7.6 L5.6 -2 L1.1 -2 L4.4 -7.4 Z" transform="translate(839 683)"/>
<path d="M1 -7.4 L-5.6 1.5 L-0.7 1.5 L-2.8 7.6 L5.6 -2 L1.1 -2 L4.4 -7.4 Z" transform="translate(754 714)"/>
<path d="M1 -7.4 L-5.6 1.5 L-0.7 1.5 L-2.8 7.6 L5.6 -2 L1.1 -2 L4.4 -7.4 Z" transform="translate(684 714)"/>
<path d="M1 -7.4 L-5.6 1.5 L-0.7 1.5 L-2.8 7.6 L5.6 -2 L1.1 -2 L4.4 -7.4 Z" transform="translate(800 755.7)"/>
<path d="M1 -7.4 L-5.6 1.5 L-0.7 1.5 L-2.8 7.6 L5.6 -2 L1.1 -2 L4.4 -7.4 Z" transform="translate(719 816)"/>
<path d="M1 -7.4 L-5.6 1.5 L-0.7 1.5 L-2.8 7.6 L5.6 -2 L1.1 -2 L4.4 -7.4 Z" transform="translate(654.7 916)"/>
<path d="M1 -7.4 L-5.6 1.5 L-0.7 1.5 L-2.8 7.6 L5.6 -2 L1.1 -2 L4.4 -7.4 Z" transform="translate(619.6 670)"/>
<path d="M1 -7.4 L-5.6 1.5 L-0.7 1.5 L-2.8 7.6 L5.6 -2 L1.1 -2 L4.4 -7.4 Z" transform="translate(603 740)"/>
<path d="M1 -7.4 L-5.6 1.5 L-0.7 1.5 L-2.8 7.6 L5.6 -2 L1.1 -2 L4.4 -7.4 Z" transform="translate(512 793)"/>
</g>
</g>
</svg>
<svg class="logo" viewBox="0 0 31 31"><circle cx="15.5" cy="15.5" r="15" fill="#f0d23c"/><path d="M18.1 2.9 L20.2 6.4 L25.2 12.4 L23.7 13.7 L20.2 13.9 L19.2 19.5 L18.6 26.5 L17.6 30.3 L15.6 30.3 L15.6 24 L14.1 23.5 L8.6 23.5 L6.6 25.5 L3.6 30 L2.3 29 L4.8 21.5 L5.3 18.7 L9.1 17.5 L13.6 16.5 L15.1 11.4 L16.6 6.4 Z" fill="#2a1608"/></svg>
<div class="brand">ITDOG</div>
<div class="sub">www.itdog.cn</div>
<svg class="bolt" viewBox="0 0 16 24"><path d="M9.5 1 L2 12.5 L6.8 12.5 L5 23 L14 9.5 L9 9.5 L11.5 1 Z" fill="#d2445a"/></svg>
<div class="track"></div><div class="knob"></div>
<div class="lg" style="top:720.5px;background:#d93228"></div><div class="lt" style="top:719.7px;left:118.5px;letter-spacing:1.7px">&gt;10s</div>
<div class="lg" style="top:764.5px;background:#ec9c48"></div><div class="lt" style="top:763.7px;letter-spacing:1.15px">3s-10s</div>
<div class="lg" style="top:809px;background:#c2f06e"></div><div class="lt" style="top:808.2px;letter-spacing:1px">1s-3s</div>
<div class="lg" style="top:853.5px;background:#6bd955"></div><div class="lt" style="top:852.7px;letter-spacing:.85px">0.5s-1s</div>
<div class="lg" style="top:898px;background:#4aa83a"></div><div class="lt" style="top:897.2px;left:118.5px;letter-spacing:1.7px">&lt;=0.5s</div>
<div class="inset"></div>
<svg style="position:absolute;left:0;top:0;filter:blur(.8px)" width="1134" height="994"><polygon points="940,785 1000,785 985,790 963,801 950,797" fill="#eeeeee"/><polygon points="958,808 966,803 960,815" fill="#efefef"/><polygon points="1028,786 1036,785 1031,792" fill="#f0f0f0"/><polygon points="1020,832 1024,830 1024,842 1021,842" fill="#f2f2f2"/><polygon points="1018,862 1024,858 1020,870" fill="#f3f3f3"/></svg>
<div class="badge"></div><div class="bshade"></div><div class="bwrap"><div class="btxt">10</div></div>
</body></html>
